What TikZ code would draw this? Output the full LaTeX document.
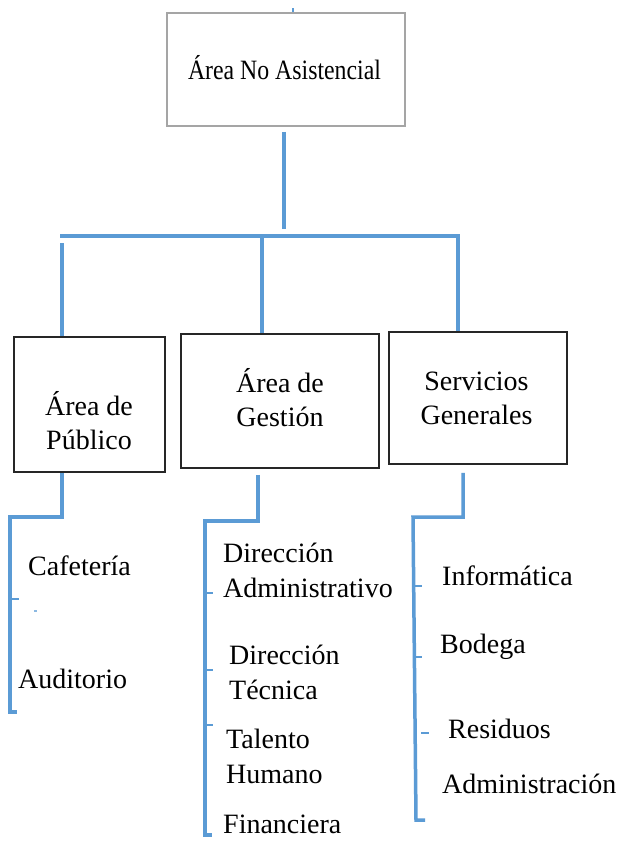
\documentclass[tikz,border=0pt]{standalone}
\usepackage{fontspec}
\usepackage{graphicx}
\setmainfont{Liberation Serif}
\definecolor{connc}{HTML}{5B9BD5}
\definecolor{boxgray}{HTML}{A5A5A5}
\tikzset{
  conn/.style={draw=connc, line width=3.5pt},
  tick/.style={draw=connc, line width=2.8pt},
  box/.style={draw=black!85, line width=1.6pt, rectangle, inner sep=0pt},
  lbl/.style={font=\fontsize{28}{35}\selectfont, inner sep=0pt, anchor=north west, align=left},
  blbl/.style={font=\fontsize{28}{34}\selectfont, inner sep=0pt, align=center}
}
\begin{document}
\begin{tikzpicture}[x=1pt,y=-1pt]
\useasboundingbox[fill=white] (0,0) rectangle (624,841);
% boxes
\node[box, draw=boxgray, minimum width=238pt, minimum height=113pt] (top) at (286,69.5) {};
\node[blbl] (toptxt) at (284.5,73) {\scalebox{0.85}[1]{\strut Área No Asistencial}};
\node[box, minimum width=151pt, minimum height=135pt] (pub) at (89.5,404.5) {};
\node[blbl] (pubtxt) at (89,425.5) {\strut Área de\\\strut Público};
\node[box, minimum width=198pt, minimum height=134pt] (ges) at (280,401) {};
\node[blbl] (gestxt) at (280,403) {\strut Área de\\\strut Gestión};
\node[box, minimum width=178pt, minimum height=132pt] (ser) at (478,398) {};
\node[blbl] (sertxt) at (476.5,400.5) {\strut Servicios\\\strut Generales};
% top connectors
\coordinate (ttk) at (293,8);
\draw[tick, line width=2pt] (ttk) -- (top.north -| ttk);
\coordinate (tj) at (284,229);
\draw[conn] ([xshift=-2pt,yshift=-5pt]top.south) -- (tj);
\coordinate (busL) at (60,236);
\coordinate (busR) at (458,236);
\draw[conn] (busL) -- (busR) -- (ser.north -| busR);
\coordinate (pJ) at (62,243);
\draw[conn] (pJ) -- (pub.north -| pJ);
\coordinate (gJ) at (262,236);
\draw[conn] (gJ) -- (ges.north -| gJ);
% Area de Publico list
\coordinate (pB) at (62,517);
\coordinate (pS1) at (10,517);
\coordinate (pS2) at (10,712);
\coordinate (pS3) at (17,712);
\draw[conn] (pub.south -| pB) -- (pB) -- (pS1) -- (pS2) -- (pS3);
\coordinate (pt1) at (19,599);
\draw[tick] (pS1 |- pt1) -- (pt1);
\coordinate (pdot) at (34,611);
\draw[connc!70, line width=1.2pt] (pdot) -- ++(3,0);
\node[lbl] (caf) at (28,550.5) {\strut Cafetería};
\node[lbl] (aud) at (18,663.5) {\strut Auditorio};
% Area de Gestion list
\coordinate (gB) at (258,521);
\coordinate (gS1) at (205,521);
\coordinate (gS2) at (205,835);
\coordinate (gS3) at (212,835);
\draw[conn] ([xshift=-22pt,yshift=-6pt]ges.south) -- (gB) -- (gS1) -- (gS2) -- (gS3);
\coordinate (gt1) at (213,593);
\coordinate (gt2) at (213,670);
\coordinate (gt3) at (213,725);
\draw[tick] (gS1 |- gt1) -- (gt1);
\draw[tick] (gS1 |- gt2) -- (gt2);
\draw[tick] (gS1 |- gt3) -- (gt3);
\node[lbl] (da) at (223,537.5) {\strut Dirección\\\strut Administrativo};
\node[lbl] (dt) at (229,639.5) {\strut Dirección\\\strut Técnica};
\node[lbl] (th) at (226,723.5) {\strut Talento\\\strut Humano};
\node[font=\fontsize{28}{35}\selectfont, inner sep=0pt, anchor=base west] (fin) at (223,833) {Financiera};
% Servicios Generales list
\coordinate (sB) at (463,517);
\coordinate (sS1) at (413,517);
\coordinate (sS2) at (416,820);
\coordinate (sS3) at (425,820);
\draw[conn] ([xshift=-15pt,yshift=-8pt]ser.south) -- (sB) -- (sS1) -- (sS2) -- (sS3);
\coordinate (st1a) at (414,586);
\coordinate (st1b) at (422,586);
\coordinate (st2a) at (414.5,657);
\coordinate (st2b) at (422,657);
\coordinate (st3a) at (421,733);
\coordinate (st3b) at (429,733);
\draw[tick] (st1a) -- (st1b);
\draw[tick] (st2a) -- (st2b);
\draw[tick] (st3a) -- (st3b);
\node[lbl] (inf) at (442,560.5) {\strut Informática};
\node[lbl] (bod) at (440,628.5) {\strut Bodega};
\node[lbl] (res) at (448,713.5) {\strut Residuos};
\node[lbl] (adm) at (442,768.5) {\strut Administración};
\end{tikzpicture}
\end{document}
